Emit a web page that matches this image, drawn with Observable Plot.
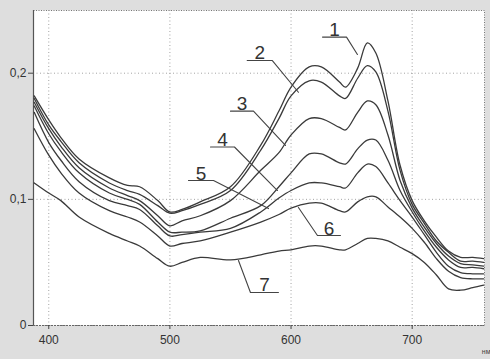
<!DOCTYPE html>
<html>
<head>
<meta charset="utf-8">
<script src="https://cdn.jsdelivr.net/npm/d3@7"></script>
<script src="https://cdn.jsdelivr.net/npm/@observablehq/plot@0.6"></script>
<style>
  html, body { margin: 0; padding: 0; background: #dedede; }
  #chart svg { display: block; }
</style>
</head>
<body>
<div id="chart"></div>
<script>
// Wavelengths (nm)
const wavelengths = [388, 400, 410, 425, 450, 465, 475, 490, 500, 510, 525, 550, 575, 590, 600, 615, 625, 640, 645, 655, 663, 670, 680, 690, 700, 710, 720, 730, 740, 750, 759];

// Absorbance series, curves 1..7
const curve1 = [0.182,0.163,0.149,0.132,0.117,0.111,0.110,0.099,0.090,0.092,0.098,0.110,0.143,0.170,0.189,0.205,0.205,0.193,0.189,0.204,0.224,0.216,0.178,0.127,0.099,0.083,0.070,0.059,0.054,0.054,0.053];
const curve2 = [0.180,0.159,0.146,0.129,0.113,0.107,0.104,0.095,0.089,0.091,0.096,0.107,0.139,0.164,0.182,0.194,0.193,0.182,0.180,0.196,0.206,0.201,0.170,0.123,0.096,0.081,0.067,0.058,0.051,0.051,0.050];
const curve3 = [0.177,0.156,0.142,0.125,0.109,0.103,0.099,0.087,0.079,0.083,0.087,0.099,0.123,0.137,0.151,0.164,0.164,0.157,0.155,0.169,0.178,0.175,0.151,0.115,0.093,0.078,0.065,0.055,0.049,0.048,0.047];
const curve4 = [0.174,0.152,0.138,0.121,0.105,0.100,0.096,0.082,0.074,0.074,0.075,0.085,0.095,0.110,0.121,0.136,0.136,0.129,0.128,0.140,0.147,0.147,0.131,0.107,0.090,0.075,0.062,0.052,0.046,0.046,0.045];
const curve5 = [0.169,0.145,0.131,0.114,0.099,0.095,0.092,0.079,0.071,0.072,0.074,0.077,0.090,0.101,0.107,0.113,0.113,0.110,0.109,0.121,0.128,0.126,0.113,0.099,0.086,0.072,0.058,0.047,0.042,0.041,0.041];
const curve6 = [0.156,0.135,0.121,0.105,0.091,0.086,0.082,0.071,0.063,0.065,0.067,0.074,0.082,0.088,0.093,0.097,0.097,0.091,0.090,0.098,0.102,0.102,0.094,0.086,0.077,0.066,0.053,0.043,0.038,0.037,0.037];
const curve7 = [0.113,0.105,0.099,0.086,0.073,0.067,0.063,0.053,0.047,0.050,0.054,0.052,0.056,0.059,0.060,0.063,0.063,0.060,0.060,0.065,0.069,0.069,0.067,0.062,0.057,0.050,0.040,0.029,0.028,0.030,0.032];

const curveNames = ["1","2","3","4","5","6","7"];
const xTicks = [400, 500, 600, 700];
const yTicks = [0, 0.1, 0.2];
const unitLabel = "нм";

// Curve number labels: underline ends (nm, absorbance) and leader tip
const labelNames   = ["1","2","3","4","5","6","7"];
const underlineX0  = [626, 563.8, 550, 533.5, 515.3, 621.8, 566.5];
const underlineX1  = [645.8, 584.4, 569, 553.3, 536, 640.8, 589.6];
const underlineY   = [0.2286, 0.2101, 0.1699, 0.1415, 0.1149, 0.0713, 0.0262];
const leaderTipX   = [654.8, 606.1, 595.4, 588.8, 581.4, 606.1, 556.6];
const leaderTipY   = [0.2148, 0.1849, 0.1427, 0.1070, 0.0927, 0.0935, 0.0515];
const leaderFromEnd = [true, true, true, true, true, false, false];

// Build tables
const series = [curve1, curve2, curve3, curve4, curve5, curve6, curve7];
const rows = [];
series.forEach((vals, i) => vals.forEach((v, j) => rows.push({curve: curveNames[i], nm: wavelengths[j], a: v})));

const leaders = [];
labelNames.forEach((n, i) => {
  const a = {nm: underlineX0[i], a: underlineY[i]};
  const b = {nm: underlineX1[i], a: underlineY[i]};
  const t = {nm: leaderTipX[i], a: leaderTipY[i]};
  const pts = leaderFromEnd[i] ? [a, b, t] : [b, a, t];
  pts.forEach((p, k) => leaders.push({label: n, order: k, ...p}));
});
const labels = labelNames.map((n, i) => ({label: n, nm: (underlineX0[i] + underlineX1[i]) / 2, a: underlineY[i]}));

const xDomain = [387.4, 759.7];
const yDomain = [0, 0.2497];
const fmt = d => d === 0 ? "0" : d.toFixed(1).replace(".", ",");

const chart = Plot.plot({
  width: 490,
  height: 359,
  marginLeft: 33,
  marginRight: 6,
  marginTop: 10,
  marginBottom: 34,
  style: {background: "#dedede", fontFamily: "'Liberation Sans', Arial, sans-serif", color: "#333"},
  x: {domain: xDomain, ticks: xTicks, label: null},
  y: {domain: yDomain, ticks: yTicks, label: null},
  marks: [
    Plot.frame({fill: "white", stroke: "#777", strokeDasharray: "1,1.5"}),
    Plot.gridX(xTicks, {stroke: "#999", strokeOpacity: 0.9, strokeDasharray: "1,2.5"}),
    Plot.gridY(yTicks.filter(d => d > 0), {stroke: "#999", strokeOpacity: 0.9, strokeDasharray: "1,2.5"}),
    Plot.ruleX([xDomain[0]], {stroke: "#555", strokeWidth: 1.2}),
    Plot.ruleY([0], {stroke: "#666", strokeDasharray: "2,1"}),
    Plot.axisX({ticks: xTicks, tickSize: 4, tickPadding: 6, fontSize: 12, tickFormat: d => String(d), stroke: "#444"}),
    Plot.axisY({ticks: yTicks, tickSize: 5, tickPadding: 2, fontSize: 12, tickFormat: fmt, stroke: "#444"}),
    Plot.line(rows, {x: "nm", y: "a", z: "curve", stroke: "#3a3a3a", strokeWidth: 1.3, curve: "catmull-rom"}),
    Plot.line(leaders, {x: "nm", y: "a", z: "label", stroke: "#444", strokeWidth: 1.1}),
    Plot.text(labels, {x: "nm", y: "a", text: "label", lineAnchor: "bottom", dy: -1, fontSize: 19, fill: "#333"}),
    Plot.text([unitLabel], {frameAnchor: "bottom-right", text: d => d, dy: 28, dx: 6, textAnchor: "end", fontSize: 7, fill: "#444"})
  ]
});
document.getElementById("chart").appendChild(chart);
</script>
</body>
</html>
